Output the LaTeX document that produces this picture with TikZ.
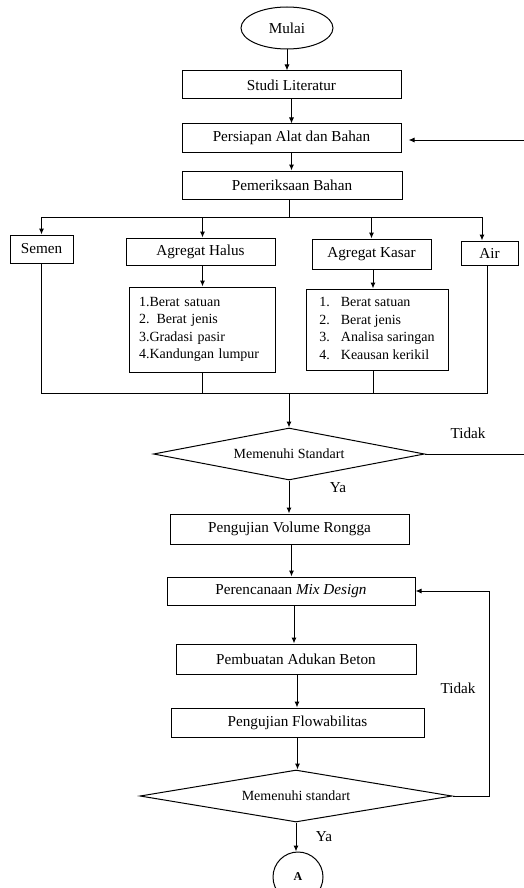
\documentclass[tikz,border=0pt]{standalone}
\usepackage{fontspec}
\setmainfont{Liberation Serif}
\usetikzlibrary{shapes.geometric,arrows.meta}
\begin{document}
\begin{tikzpicture}[x=1pt,y=-1pt,
  line width=1pt,
  every node/.style={font=\fontsize{15.2}{17.5}\selectfont},
  box/.style={draw,rectangle,inner sep=0pt,align=center},
  lst/.style={draw,rectangle,inner sep=0pt,font=\fontsize{14}{17.5}\selectfont},
  dec/.style={draw,diamond,inner sep=0pt,aspect=5.2,font=\fontsize{14}{16}\selectfont},
  arr/.style={-{Latex[length=6pt,width=5pt]}},
  lbl/.style={inner sep=0pt}]
\useasboundingbox (0,0) rectangle (524,888);
\node[draw,ellipse,minimum width=92,minimum height=42,inner sep=0pt] (mulai) at (287,28) {Mulai};
\node[box,minimum width=219,minimum height=28] (studi) at (291.5,85) {Studi Literatur};
\node[box,minimum width=219,minimum height=28] (persiapan) at (291.5,138) {Persiapan Alat dan Bahan};
\node[box,minimum width=220,minimum height=28] (periksa) at (292,185) {Pemeriksaan Bahan};
\node[box,minimum width=63,minimum height=28] (semen) at (41.5,249) {Semen};
\node[box,minimum width=149,minimum height=27] (halus) at (200.5,251.5) {Agregat Halus};
\node[box,minimum width=119,minimum height=30] (kasar) at (371.5,254) {Agregat Kasar};
\node[box,minimum width=57,minimum height=24] (air) at (489.5,253) {Air};
\node[lst,minimum width=146,minimum height=85,text width=126,align=left] (lhalus) at (202,329.5)
  {1.Berat satuan\\2. Berat jenis\\3.Gradasi pasir\\4.Kandungan lumpur};
\node[lst,minimum width=142,minimum height=81] (lkasar) at (377,329.5)
  {\begin{tabular}{@{}l@{\hspace{11pt}}l@{}}1.&Berat satuan\\2.&Berat jenis\\3.&Analisa saringan\\4.&Keausan kerikil\end{tabular}};
\node[dec,minimum width=271,minimum height=52] (d1) at (289,454) {Memenuhi Standart};
\node[box,minimum width=239,minimum height=30] (vol) at (289.5,529) {Pengujian Volume Rongga};
\node[box,minimum width=248,minimum height=28] (mix) at (291,591) {Perencanaan \textit{Mix Design}};
\node[box,minimum width=240,minimum height=30] (buat) at (296,659) {Pembuatan Adukan Beton};
\node[box,minimum width=253,minimum height=29] (flow) at (297.5,722.5) {Pengujian Flowabilitas};
\node[dec,minimum width=312,minimum height=52] (d2) at (296,796) {Memenuhi standart};
\node[draw,circle,minimum size=50,inner sep=0pt,font=\fontsize{12}{14}\selectfont\bfseries] (A) at (298,877) {A};
\node[lbl] (t1) at (468,433) {Tidak};
\node[lbl] (y1) at (338,488) {Ya};
\node[lbl] (t2) at (458,688) {Tidak};
\node[lbl] (y2) at (324,837) {Ya};
\coordinate (bt) at (289,217);
\coordinate (bb) at (289,393);
\coordinate (e1) at (524,454);
\coordinate (e2) at (524,140);
\coordinate (fbx) at (489,700);
% main flow
\draw[arr] (mulai.south) -- (mulai.south |- studi.north);
\draw[arr] (studi.south) -- (studi.south |- persiapan.north);
\draw[arr] (persiapan.south) -- (persiapan.south |- periksa.north);
\draw (periksa.south -| bt) -- (bt);
\draw[arr] (bt) -| (semen.north);
\draw[arr] (bt) -| ([xshift=2pt]halus.north);
\draw[arr] (bt) -| (kasar.north);
\draw[arr] (bt) -| ([xshift=-7.5pt]air.north);
\draw[arr] ([xshift=2pt]halus.south) -- ([xshift=2pt]halus.south |- lhalus.north);
\draw[arr] ([xshift=1.5pt]kasar.south) -- ([xshift=1.5pt]kasar.south |- lkasar.north);
\draw (semen.south) |- (bb);
\draw ([xshift=-2pt]air.south) |- (bb);
\draw (lhalus.south) -- (lhalus.south |- bb);
\draw ([xshift=-4pt]lkasar.south) -- ([xshift=-4pt]lkasar.south |- bb);
\draw[arr] (bb) -- (d1.north);
\draw (d1.east) -- (e1);
\draw[arr,shorten >=7pt] (e2) -- (e2 -| persiapan.east);
\draw[arr] (d1.south) -- (d1.south |- vol.north);
\draw[arr] ([xshift=2pt]vol.south) -- ([xshift=2pt]vol.south |- mix.north);
\draw[arr] ([xshift=3pt]mix.south) -- ([xshift=3pt]mix.south |- buat.north);
\draw[arr] ([xshift=1pt]buat.south) -- ([xshift=1pt]buat.south |- flow.north);
\draw[arr] (flow.south) -- (flow.south |- d2.north);
\draw (d2.east) -| (fbx);
\draw[arr] (fbx) |- (mix.east);
\draw[arr] (d2.south) -- (d2.south |- A.north);
\end{tikzpicture}
\end{document}
